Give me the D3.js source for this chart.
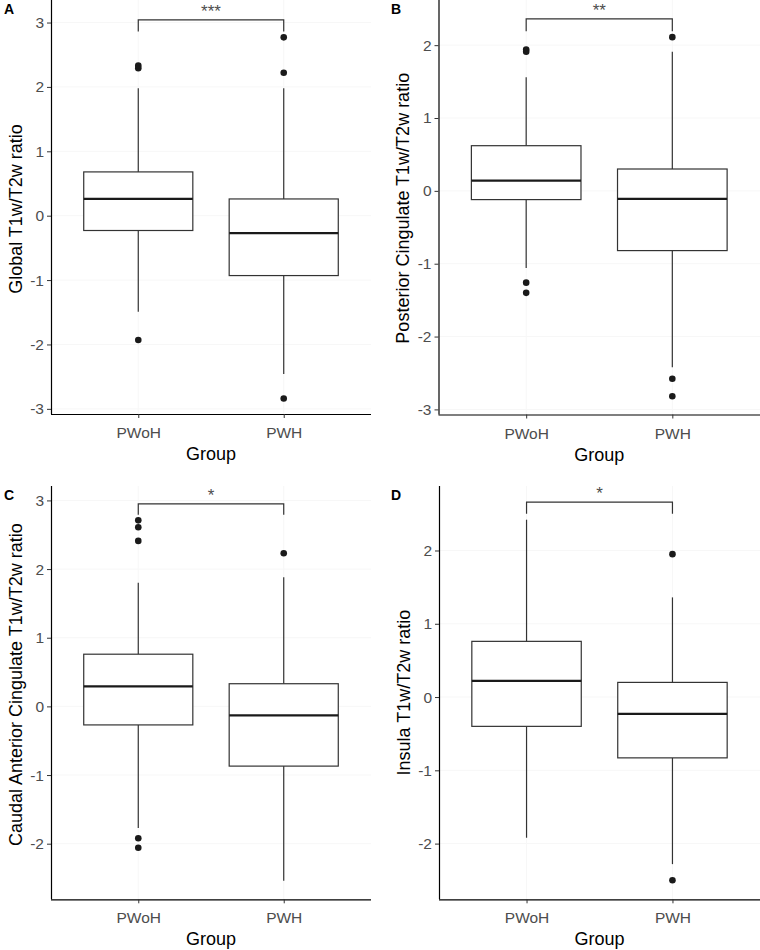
<!DOCTYPE html>
<html>
<head>
<meta charset="utf-8">
<script src="https://cdn.jsdelivr.net/npm/d3@7"></script>
<style>
  html, body { margin: 0; padding: 0; background: #fff; }
  svg { display: block; }
  text { font-family: "Liberation Sans", Arial, sans-serif; }
</style>
</head>
<body>
<svg id="chart" width="760" height="950"></svg>
<script>
// ---------------- data ----------------
const groups = ["PWoH", "PWH"];
const panelLetters = ["A", "B", "C", "D"];
const yTitles = [
  "Global T1w/T2w ratio",
  "Posterior Cingulate T1w/T2w ratio",
  "Caudal Anterior Cingulate T1w/T2w ratio",
  "Insula T1w/T2w ratio"
];
const xTitle = "Group";
const sigLabels = ["***", "**", "*", "*"];
const yTicks = [
  [-3, -2, -1, 0, 1, 2, 3],
  [-3, -2, -1, 0, 1, 2],
  [-2, -1, 0, 1, 2, 3],
  [-2, -1, 0, 1, 2]
];
const yDomains = [
  [-3.08, 3.35],
  [-3.07, 2.62],
  [-2.81, 3.21],
  [-2.76, 2.88]
];
// per panel: [PWoH, PWH]
const whiskerLow  = [[-1.49, -2.46], [-1.06, -2.42], [-1.77, -2.54], [-1.92, -2.28]];
const q1          = [[-0.23, -0.93], [-0.12, -0.82], [-0.27, -0.87], [-0.40, -0.83]];
const medians     = [[ 0.26, -0.27], [ 0.14, -0.11], [ 0.29, -0.13], [ 0.22, -0.23]];
const q3          = [[ 0.68,  0.26], [ 0.62,  0.30], [ 0.76,  0.33], [ 0.76,  0.20]];
const whiskerHigh = [[ 1.98,  1.98], [ 1.56,  1.91], [ 1.80,  1.88], [ 2.42,  1.36]];
const outliers = [
  [[2.29, 2.33, -1.93], [2.77, 2.22, -2.84]],
  [[1.94, 1.91, -1.26, -1.40], [2.11, -2.58, -2.82]],
  [[2.71, 2.61, 2.41, -1.92, -2.06], [2.23]],
  [[], [1.95, -2.50]]
];
// bracket: [bar level, leg end]
const brackets = [[3.04, 2.86], [2.36, 2.19], [2.95, 2.79], [2.66, 2.50]];

// ---------------- layout ----------------
const panels = [
  { x0: 51,    x1: 371, y0: 0,   y1: 414,   titleShift: 2 },
  { x0: 438.5, x1: 760, y0: 0,   y1: 414.5, titleShift: 1 },
  { x0: 51,    x1: 371, y0: 486, y1: 899.3, titleShift: -8 },
  { x0: 439,   x1: 760, y0: 486, y1: 899.3, titleShift: 0 }
];

const svg = d3.select("#chart");
const tickCol = "#4d4d4d";
const lineCol = "#333333";

panels.forEach((p, i) => {
  const g = svg.append("g");
  const x = d3.scalePoint().domain(groups).range([p.x0, p.x1]).padding(0.6);
  const y = d3.scaleLinear().domain(yDomains[i]).range([p.y1, p.y0]);
  const step = x.step();
  const bw = step * 0.75;

  // faint grid
  g.append("g").selectAll("line").data(yTicks[i]).join("line")
    .attr("x1", p.x0).attr("x2", p.x1)
    .attr("y1", d => y(d)).attr("y2", d => y(d))
    .attr("stroke", "#f7f7f7").attr("stroke-width", 1);
  g.append("g").selectAll("line").data(groups).join("line")
    .attr("x1", d => x(d)).attr("x2", d => x(d))
    .attr("y1", p.y0).attr("y2", p.y1)
    .attr("stroke", "#f7f7f7").attr("stroke-width", 1);

  // boxes
  groups.forEach((grp, j) => {
    const cx = x(grp);
    const bg = g.append("g");
    bg.append("line")
      .attr("x1", cx).attr("x2", cx)
      .attr("y1", y(whiskerHigh[i][j])).attr("y2", y(q3[i][j]))
      .attr("stroke", lineCol).attr("stroke-width", 1.2);
    bg.append("line")
      .attr("x1", cx).attr("x2", cx)
      .attr("y1", y(q1[i][j])).attr("y2", y(whiskerLow[i][j]))
      .attr("stroke", lineCol).attr("stroke-width", 1.2);
    bg.append("rect")
      .attr("x", cx - bw / 2).attr("width", bw)
      .attr("y", y(q3[i][j])).attr("height", y(q1[i][j]) - y(q3[i][j]))
      .attr("fill", "#fff").attr("stroke", lineCol).attr("stroke-width", 1.2);
    bg.append("line")
      .attr("x1", cx - bw / 2).attr("x2", cx + bw / 2)
      .attr("y1", y(medians[i][j])).attr("y2", y(medians[i][j]))
      .attr("stroke", "#1a1a1a").attr("stroke-width", 2.3);
    bg.selectAll("circle").data(outliers[i][j]).join("circle")
      .attr("cx", cx).attr("cy", d => y(d)).attr("r", 3.3)
      .attr("fill", "#1a1a1a");
  });

  // significance bracket
  const xa = x(groups[0]), xb = x(groups[1]);
  const yb = y(brackets[i][0]), yl = y(brackets[i][1]);
  g.append("path")
    .attr("d", `M${xa},${yl}V${yb}H${xb}V${yl}`)
    .attr("fill", "none").attr("stroke", lineCol).attr("stroke-width", 1.2);
  g.append("text")
    .attr("x", (xa + xb) / 2).attr("y", yb - 3)
    .attr("text-anchor", "middle")
    .attr("font-size", 17).attr("fill", tickCol)
    .text(sigLabels[i]);

  // y axis
  const ya = g.append("g").attr("transform", `translate(${p.x0},0)`)
    .call(d3.axisLeft(y).tickValues(yTicks[i]).tickSize(4).tickSizeOuter(0).tickPadding(3)
      .tickFormat(d => String(d)));
  ya.select(".domain").attr("stroke", "#000").attr("stroke-width", 1.2)
    .attr("d", `M0.5,${p.y0}V${p.y1}`);
  ya.selectAll(".tick line").attr("stroke", lineCol);
  ya.selectAll(".tick text").attr("fill", tickCol).attr("font-size", 15.5)
    .attr("font-family", "Liberation Sans, Arial, sans-serif");

  // x axis
  const xa2 = g.append("g").attr("transform", `translate(0,${p.y1})`)
    .call(d3.axisBottom(x).tickSize(4).tickSizeOuter(0).tickPadding(9));
  xa2.select(".domain").attr("stroke", "#000").attr("stroke-width", 1.2)
    .attr("d", `M${p.x0},0.5H${p.x1}`);
  xa2.selectAll(".tick line").attr("stroke", lineCol);
  xa2.selectAll(".tick text").attr("fill", tickCol).attr("font-size", 15.5)
    .attr("font-family", "Liberation Sans, Arial, sans-serif");

  // axis titles
  g.append("text")
    .attr("x", (p.x0 + p.x1) / 2).attr("y", p.y1 + 46)
    .attr("text-anchor", "middle").attr("font-size", 18).attr("fill", "#000")
    .text(xTitle);
  const tx = p.x0 - 29.5;
  const ty = (p.y0 + p.y1) / 2 + p.titleShift;
  g.append("text")
    .attr("transform", `translate(${tx},${ty}) rotate(-90)`)
    .attr("text-anchor", "middle").attr("font-size", 18).attr("fill", "#000")
    .text(yTitles[i]);

  // panel letter
  g.append("text")
    .attr("x", i % 2 === 0 ? 4 : 391).attr("y", p.y0 + 14)
    .attr("font-size", 14).attr("font-weight", "bold").attr("fill", "#000")
    .text(panelLetters[i]);
});
</script>
</body>
</html>
